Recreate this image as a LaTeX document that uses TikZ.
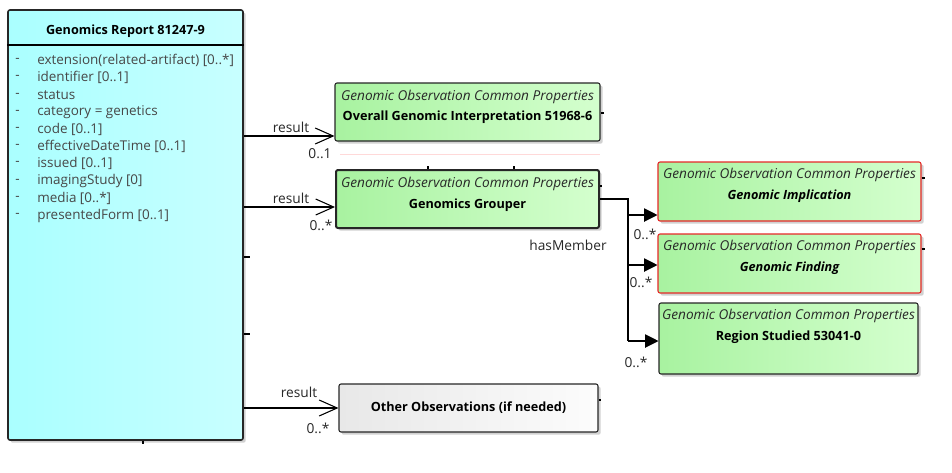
\documentclass[tikz,border=0pt]{standalone}
\usepackage{fontspec}
\setmainfont{Open Sans}
\usetikzlibrary{arrows.meta,shadows,calc}
\definecolor{cyanL}{RGB}{170,255,255}
\definecolor{cyanR}{RGB}{200,255,255}
\definecolor{greenL}{RGB}{168,242,160}
\definecolor{greenR}{RGB}{212,255,206}
\definecolor{grayL}{RGB}{232,232,232}
\definecolor{grayR}{RGB}{252,252,252}
\definecolor{redB}{RGB}{230,40,40}
\definecolor{txt}{RGB}{40,40,40}
\tikzset{
  shad/.style={drop shadow={shadow xshift=2pt,shadow yshift=-2pt,fill=black!18,opacity=1}},
  cls/.style={draw=black!85,line width=0.8pt,rounded corners=1.5pt,shad,inner sep=0pt},
  gbox/.style={cls,left color=greenL,right color=greenR},
  stereo/.style={font=\fontsize{10.2}{11}\selectfont\itshape,text=txt,inner sep=0pt},
  bname/.style={font=\fontsize{9.5}{10}\selectfont\bfseries,text=black,inner sep=0pt},
  bname2/.style={font=\fontsize{9.5}{10}\selectfont\bfseries\itshape,text=black,inner sep=0pt},
  attr/.style={font=\fontsize{10.1}{11}\selectfont,text=black!72,anchor=west,inner sep=0pt},
  lbl/.style={font=\fontsize{10.3}{11}\selectfont,text=black!85,inner sep=0pt},
  res/.style={line width=0.8pt,-{Straight Barb[length=13.5pt,width=12pt,line width=0.8pt]}},
  mem/.style={line width=0.8pt,-{Triangle[length=10pt,width=10pt]}},
  stub/.style={line width=0.8pt}
}
\begin{document}
\begin{tikzpicture}[x=0.75pt,y=-0.75pt]
\useasboundingbox (0,0) rectangle (952,472);
% main class
\node[cls,line width=1.2pt,left color=cyanL,right color=cyanR,minimum width=176.25pt,minimum height=322.5pt] (main) at (125.5,225) {};
\draw[line width=1.2pt] (main.north west |- 0,45) coordinate (hl) -- (main.north east |- 0,45) coordinate (hr);
\node[bname] (title) at (125.5,31) {Genomics Report 81247-9};
\foreach \t [count=\i] in {extension(related-artifact) [0..*],identifier [0..1],status,category = genetics,code [0..1],effectiveDateTime [0..1],issued [0..1],imagingStudy [0],media [0..*],presentedForm [0..1]}{
  \node[attr] (d\i) at (15,{43.5+17.2*\i}) {-};
  \node[attr] (a\i) at (37,{43.5+17.2*\i}) {\t};
}
% stubs on main
\draw[stub] (main.east |- 0,257) -- ++(6,0);
\draw[stub] (main.east |- 0,334) -- ++(6,0);
\draw[stub] (main.south -| 143,0) -- ++(0,3);
% boxes
\node[gbox,minimum width=198.75pt,minimum height=43.5pt] (ogi) at (467.5,112) {};
\node[stereo] (ogis) at (ogi.north |- 0,97) {Genomic Observation Common Properties};
\node[bname] (ogin) at (ogi.north |- 0,117) {Overall Genomic Interpretation 51968-6};

\node[gbox,line width=1.5pt,minimum width=197.25pt,minimum height=43.5pt] (grp) at (467.5,199) {};
\node[stereo] (grps) at (grp.north |- 0,184) {Genomic Observation Common Properties};
\node[bname] (grpn) at (grp.north |- 0,205) {Genomics Grouper};

\node[gbox,draw=redB,minimum width=197.25pt,minimum height=44.25pt] (imp) at (789.5,191.5) {};
\node[stereo] (imps) at (imp.north |- 0,175) {Genomic Observation Common Properties};
\node[bname2] (impn) at (imp.north |- 0,196) {Genomic Implication};

\node[gbox,draw=redB,minimum width=197.25pt,minimum height=44.25pt] (fnd) at (789.5,263.5) {};
\node[stereo] (fnds) at (fnd.north |- 0,247) {Genomic Observation Common Properties};
\node[bname2] (fndn) at (fnd.north |- 0,268) {Genomic Finding};

\node[gbox,minimum width=194.25pt,minimum height=53.25pt] (reg) at (788.5,338.5) {};
\node[stereo] (regs) at (reg.north |- 0,316) {Genomic Observation Common Properties};
\node[bname] (regn) at (reg.north |- 0,337) {Region Studied 53041-0};

\node[cls,left color=grayL,right color=grayR,minimum width=194.25pt,minimum height=36pt] (oth) at (468.5,408) {};
\node[bname] (othn) at (oth.center) {Other Observations (if needed)};

% small stubs on boxes
\draw[stub] (ogi.east |- 0,113) -- ++(3,0);
\draw[stub] (grp.east |- 0,186) -- ++(2,0);
\draw[stub] (imp.east |- 0,178) -- ++(3,0);
\draw[stub] (fnd.east |- 0,249) -- ++(3,0);
\draw[stub] (oth.east |- 0,400) -- ++(2,0);
\draw[stub] (grp.north -| 428,0) -- ++(0,-3);
\draw[stub] (grp.north -| 514,0) -- ++(0,-3);
\draw[red!15,line width=0.5pt] (340,154) -- (600,154);

% result connectors
\coordinate (e1) at (ogi.west |- 0,136);
\coordinate (e2) at (grp.west |- 0,207);
\coordinate (e3) at (oth.west);
\draw[res] (main.east |- e1) -- (e1);
\draw[res] (main.east |- e2) -- (e2);
\draw[res] (main.east |- e3) -- (e3);
\node[lbl] (l1) at (291,127) {result};
\node[lbl] (m1) at (320,154) {0..1};
\node[lbl] (l2) at (291,198) {result};
\node[lbl] (m2) at (321,225) {0..*};
\node[lbl] (l3) at (299,392) {result};
\node[lbl] (m3) at (318,428) {0..*};

% hasMember
\coordinate (j1) at (628,199);
\coordinate (j4) at (628,341);
\draw[stub] (grp.east |- j1) -- (j1) -- (j4);
\draw[mem] (628,215) coordinate (j2) -- (imp.west |- j2);
\draw[mem] (628,265) coordinate (j3) -- (fnd.west |- j3);
\draw[mem] (j4) -- (reg.west |- j4);
\node[lbl] (hm) at (568,245) {hasMember};
\node[lbl] (n1) at (645,234) {0..*};
\node[lbl] (n2) at (641,282) {0..*};
\node[lbl] (n3) at (636,362) {0..*};
\end{tikzpicture}
\end{document}
